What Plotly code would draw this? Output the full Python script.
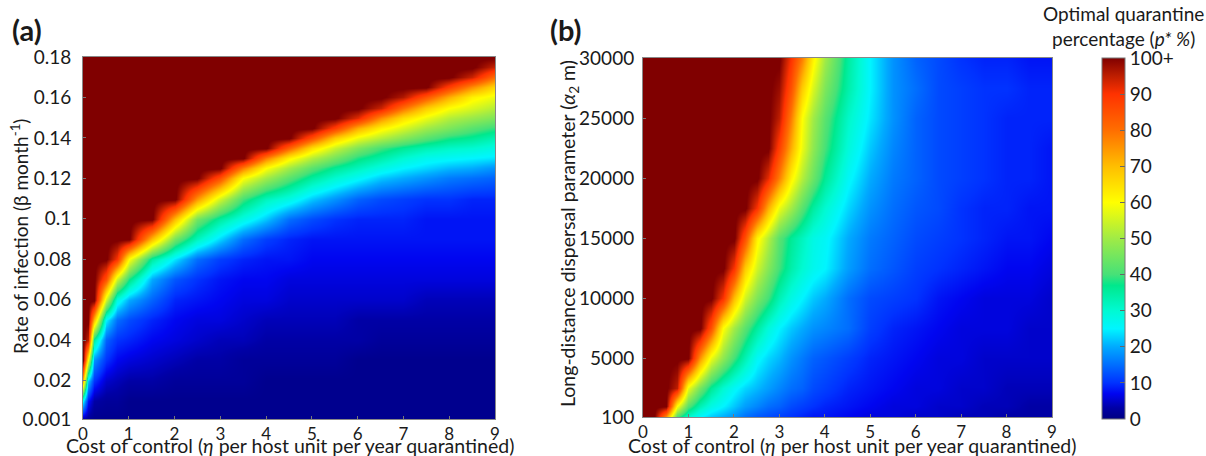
import plotly.graph_objects as go

W, H = 1206, 456
FONT = "Lato, Carlito, 'Open Sans', sans-serif"
TC = "#1a1a1a"

cost_a = [0, .1, .25, .5, .75, 1, 1.5, 2, 2.5, 3, 3.5, 4, 4.5, 5, 5.5, 6, 6.5, 7, 7.5, 8, 8.5, 9]
beta = [.001, .01, .02, .03, .04, .05, .06, .07, .08, .09, .10, .11, .12, .125, .13, .135, .14, .145, .15, .155, .16, .165, .17, .175, .18]
R = 101
z_a = [
    [3, 2, 1, 1, 1, 1, 1, 1, 1, 1, 1, 1, 1, 1, 1, 1, 1, 1, 1, 1, 1, 1],
    [25, 8, 3, 2, 2, 1, 1, 1, 1, 1, 1, 1, 1, 1, 1, 1, 1, 1, 1, 1, 1, 1],
    [70, 22, 10, 5, 4, 3, 3, 2, 2, 2, 2, 1, 1, 1, 1, 1, 1, 1, 1, 1, 1, 1],
    [R, 60, 18, 10, 7, 6, 5, 4, 3, 3, 2, 2, 2, 2, 2, 1, 1, 1, 1, 1, 1, 1],
    [R, 95, 35, 14, 10, 9, 7, 6, 5, 4, 4, 3, 3, 3, 3, 3, 2, 2, 2, 2, 2, 2],
    [R, R, 70, 25, 15, 12, 9, 7, 6, 6, 5, 4, 4, 4, 4, 3, 3, 3, 3, 3, 3, 3],
    [R, R, R, 55, 28, 20, 14, 9, 8, 7, 6, 6, 5, 5, 5, 5, 5, 5, 4, 4, 4, 4],
    [R, R, R, 85, 55, 38, 20, 13, 10, 8, 7, 7, 6, 6, 6, 6, 6, 6, 6, 6, 6, 6],
    [R, R, R, R, 90, 60, 35, 24, 15, 11, 9, 8, 8, 7, 7, 7, 7, 7, 7, 7, 7, 7],
    [R, R, R, R, R, R, 70, 45, 32, 23, 15, 11, 9, 8, 8, 8, 8, 8, 8, 8, 8, 8],
    [R, R, R, R, R, R, R, 70, 45, 35, 28, 22, 15, 12, 10, 9, 9, 9, 8, 8, 8, 8],
    [R, R, R, R, R, R, R, R, 75, 55, 40, 32, 28, 22, 18, 14, 12, 11, 10, 10, 9, 9],
    [R, R, R, R, R, R, R, R, R, 85, 60, 50, 42, 35, 30, 26, 22, 20, 18, 16, 15, 14],
    [R, R, R, R, R, R, R, R, R, R, 78, 60, 50, 42, 36, 32, 28, 25, 23, 21, 20, 18],
    [R, R, R, R, R, R, R, R, R, R, R, 78, 62, 52, 45, 38, 34, 30, 27, 26, 25, 24],
    [R, R, R, R, R, R, R, R, R, R, R, R, 82, 65, 54, 46, 40, 36, 33, 31, 30, 28],
    [R, R, R, R, R, R, R, R, R, R, R, R, R, 85, 68, 58, 52, 47, 42, 38, 36, 33],
    [R, R, R, R, R, R, R, R, R, R, R, R, R, R, 88, 72, 62, 56, 50, 46, 42, 39],
    [R, R, R, R, R, R, R, R, R, R, R, R, R, R, R, 92, 76, 65, 58, 52, 49, 46],
    [R, R, R, R, R, R, R, R, R, R, R, R, R, R, R, R, 94, 80, 68, 60, 56, 52],
    [R, R, R, R, R, R, R, R, R, R, R, R, R, R, R, R, R, 96, 84, 72, 62, 58],
    [R, R, R, R, R, R, R, R, R, R, R, R, R, R, R, R, R, R, R, 88, 76, 66],
    [R, R, R, R, R, R, R, R, R, R, R, R, R, R, R, R, R, R, R, R, 94, 80],
    [R, R, R, R, R, R, R, R, R, R, R, R, R, R, R, R, R, R, R, R, R, 94],
    [R, R, R, R, R, R, R, R, R, R, R, R, R, R, R, R, R, R, R, R, R, R],
]

cost_b = [0, .25, .5, .75, 1, 1.25, 1.5, 1.75, 2, 2.25, 2.5, 2.75, 3, 3.25, 3.5, 3.75, 4, 4.5, 5, 5.5, 6, 6.5, 7, 7.5, 8, 8.5, 9]
alpha2 = [100, 1000, 2500, 5000, 7500, 10000, 12500, 15000, 17500, 20000, 22500, 25000, 27500, 30000]
z_b = [
    [R, R, 75, 40, 30, 25, 22, 20, 18, 15, 13, 12, 11, 10, 9, 8, 8, 7, 6, 6, 5, 5, 4, 4, 3, 3, 3],
    [R, R, R, 60, 42, 33, 28, 25, 22, 19, 17, 15, 14, 12, 11, 10, 9, 8, 7, 6, 6, 5, 5, 4, 4, 3, 3],
    [R, R, R, 95, 58, 45, 36, 30, 26, 23, 21, 19, 17, 15, 14, 12, 11, 9, 8, 7, 6, 6, 5, 5, 4, 4, 4],
    [R, R, R, R, R, 75, 58, 48, 40, 33, 26, 23, 21, 18, 16, 14, 13, 11, 9, 8, 7, 6, 6, 5, 5, 5, 5],
    [R, R, R, R, R, R, 85, 60, 50, 42, 35, 29, 25, 22, 20, 18, 17, 15, 11, 9, 8, 7, 6, 6, 6, 5, 5],
    [R, R, R, R, R, R, R, 90, 70, 55, 46, 40, 33, 28, 25, 22, 20, 15, 12, 11, 10, 8, 7, 6, 6, 6, 5],
    [R, R, R, R, R, R, R, R, 90, 68, 55, 47, 40, 34, 30, 27, 25, 19, 15, 13, 11, 10, 9, 8, 7, 7, 6],
    [R, R, R, R, R, R, R, R, R, 85, 62, 52, 42, 36, 32, 28, 26, 20, 16, 14, 12, 11, 10, 9, 8, 8, 7],
    [R, R, R, R, R, R, R, R, R, R, 90, 72, 58, 50, 42, 35, 30, 23, 18, 15, 13, 12, 10, 9, 9, 8, 8],
    [R, R, R, R, R, R, R, R, R, R, R, 92, 78, 62, 52, 44, 36, 26, 20, 16, 14, 12, 11, 10, 9, 9, 8],
    [R, R, R, R, R, R, R, R, R, R, R, R, 88, 72, 58, 48, 40, 29, 22, 17, 14, 12, 11, 10, 9, 9, 8],
    [R, R, R, R, R, R, R, R, R, R, R, R, 95, 78, 60, 50, 42, 31, 24, 18, 14, 12, 11, 10, 9, 9, 9],
    [R, R, R, R, R, R, R, R, R, R, R, R, 98, 85, 68, 56, 46, 34, 25, 18, 15, 12, 11, 10, 10, 9, 9],
    [R, R, R, R, R, R, R, R, R, R, R, R, R, 90, 78, 62, 50, 35, 25, 18, 14, 12, 10, 9, 9, 8, 8],
]

x_ticks = [0, 1, 2, 3, 4, 5, 6, 7, 8, 9]
a_ticks = [.001, .02, .04, .06, .08, .1, .12, .14, .16, .18]
a_labels = ["0.001", "0.02", "0.04", "0.06", "0.08", "0.1", "0.12", "0.14", "0.16", "0.18"]
b_ticks = [100, 5000, 10000, 15000, 20000, 25000, 30000]
b_labels = ["100", "5000", "10000", "15000", "20000", "25000", "30000"]
cb_ticks = [0, 10, 20, 30, 40, 50, 60, 70, 80, 90, 100]
cb_labels = ["0", "10", "20", "30", "40", "50", "60", "70", "80", "90", "100+"]
x_title = "Cost of control (<i>η</i> per host unit per year quarantined)"
y_title_a = "Rate of infection (β month<sup>-1</sup>)"
y_title_b = "Long-distance dispersal parameter (<i>α</i><sub>2</sub> m)"
cb_title = "Optimal quarantine<br>percentage (<i>p* %</i>)"

jet = [
    [0, "rgb(0,0,130)"], [.03, "rgb(0,0,165)"], [.07, "rgb(0,5,240)"], [.10, "rgb(0,50,255)"],
    [.20, "rgb(0,170,255)"], [.25, "rgb(0,245,255)"], [.30, "rgb(0,250,210)"], [.37, "rgb(0,232,140)"],
    [.40, "rgb(70,225,120)"], [.50, "rgb(160,235,70)"], [.60, "rgb(255,255,0)"], [.70, "rgb(255,190,0)"],
    [.80, "rgb(255,110,0)"], [.90, "rgb(255,50,0)"], [.95, "rgb(190,30,0)"], [1, "rgb(128,0,0)"],
]


def fx(px):
    return px / W


def fy(px):
    return 1 - px / H


def label(text, x, y, size, angle=0):
    return dict(text=text, x=fx(x), y=fy(y), xref="paper", yref="paper", xanchor="center", yanchor="middle",
                align="center", textangle=angle, showarrow=False, font=dict(family=FONT, size=size, color=TC))


fig = go.Figure()
fig.add_trace(go.Heatmap(x=cost_a, y=beta, z=z_a, coloraxis="coloraxis", zsmooth="best",
                         xaxis="x", yaxis="y"))
fig.add_trace(go.Heatmap(x=cost_b, y=alpha2, z=z_b, coloraxis="coloraxis", zsmooth="best",
                         xaxis="x2", yaxis="y2"))

axis = dict(ticks="inside", ticklen=3, tickcolor="#777", showgrid=False, zeroline=False,
            showline=True, linecolor="#888", linewidth=1, mirror=True, automargin=False,
            tickfont=dict(family=FONT, size=19, color=TC))
x_font = dict(family=FONT, size=17, color=TC)

fig.update_layout(
    width=W, height=H, margin=dict(l=0, r=0, t=0, b=0, pad=0), autosize=False,
    paper_bgcolor="white", plot_bgcolor="white", showlegend=False,
    font=dict(family=FONT, color=TC),
    xaxis=dict(axis, domain=[fx(83), fx(495)], range=[0, 9], tickvals=x_ticks, tickfont=x_font),
    yaxis=dict(axis, domain=[fy(419), fy(57)], range=[.001, .18], tickvals=a_ticks, ticktext=a_labels,
               ticklabelstandoff=7),
    xaxis2=dict(axis, domain=[fx(643), fx(1052)], range=[0, 9], tickvals=x_ticks, anchor="y2", tickfont=x_font),
    yaxis2=dict(axis, domain=[fy(417), fy(58)], range=[100, 30000], tickvals=b_ticks, ticktext=b_labels,
                anchor="x2", ticklabelstandoff=4),
    coloraxis=dict(
        cmin=0, cmax=100, colorscale=jet,
        colorbar=dict(
            x=fx(1102), xanchor="left", xpad=0, ypad=0, y=fy(419), yanchor="bottom",
            len=(419 - 58) / H, lenmode="fraction", thickness=23, thicknessmode="pixels",
            tickvals=cb_ticks, ticktext=cb_labels, ticks="inside", ticklen=5, tickcolor="#666",
            outlinecolor="#777", outlinewidth=1,
            tickfont=dict(family=FONT, size=19, color=TC),
        ),
    ),
    annotations=[
        label("<b>(a)</b>", 27, 29, 29),
        label("<b>(b)</b>", 566, 29, 29),
        label(cb_title, 1123, 26, 19),
        label(x_title, 290, 445, 19.5),
        label(x_title, 852, 445, 19.5),
        label(y_title_a, 19, 237, 19, -90),
        label(y_title_b, 569, 234, 19.5, -90),
    ],
)

fig.write_html("out.html", config=dict(displayModeBar=False),
               post_script="document.body.style.margin='0';document.body.style.overflow='hidden';")
